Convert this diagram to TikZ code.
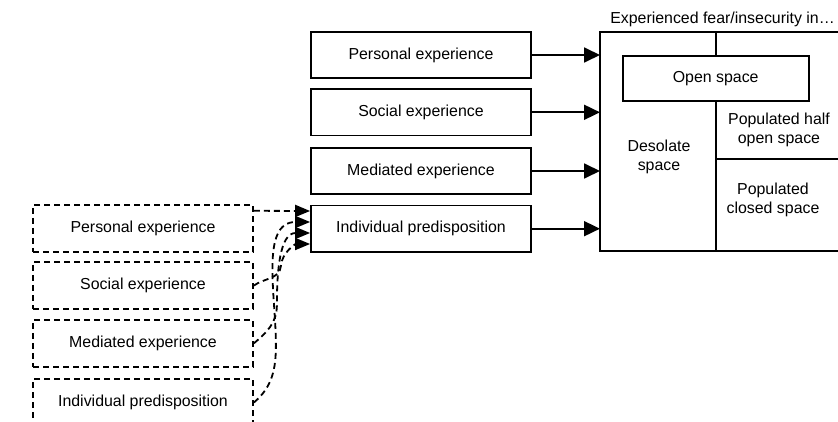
\documentclass[tikz,border=0pt]{standalone}
\usepackage{fontspec}
\setmainfont{Liberation Sans}
\usetikzlibrary{arrows.meta}
\begin{document}
\begin{tikzpicture}[x=1pt,y=-1pt,
  every node/.style={font=\fontsize{15.9}{19}\selectfont, inner sep=0pt},
  box/.style={draw, line width=1.8pt, minimum width=220, minimum height=46.5, align=center},
  dbox/.style={box, dash pattern=on 6pt off 4pt},
  lbl/.style={align=center},
  line/.style={line width=1.8pt},
  arr/.style={line width=1.8pt, -{Triangle[length=16pt,width=15pt]}},
  darr/.style={line width=1.8pt, dash pattern=on 6pt off 4pt, -{Triangle[length=15pt,width=12pt]}}]
\path[use as bounding box, clip] (0,0) rectangle (838,422);

% big area
\node[minimum width=245, minimum height=218.5, anchor=north west] (space) at (600,32.3) {};
\draw[line] (space.north east) -- (space.north west) -- (space.south west) -- (space.south east);
\node[anchor=south] (title) at (722.5,27) {Experienced fear/insecurity in\ldots};
\node[box, minimum width=186, minimum height=45] (open) at (715.7,78.5) {Open space};
\coordinate (vtop) at (715.7,32.3);
\coordinate (vbot) at (715.7,250.7);
\coordinate (hl) at (715.7,159.3);
\coordinate (hr) at (845,159.3);
\draw[line] (vtop) -- (open.north);
\draw[line] (open.south) -- (vbot);
\draw[line] (hl) -- (hr);
\node[lbl] (desolate) at (659,157) {Desolate\\space};
\node[lbl] (half) at (779,130) {Populated half\\open space};
\node[lbl] (closed) at (773,200) {Populated\\closed space};

% solid boxes
\node[box] (s1) at (421,55) {Personal experience};
\node[box] (s2) at (421,112.3) {Social experience};
\node[box] (s3) at (421,171) {Mediated experience};
\node[box] (s4) at (421,228.7) {Individual predisposition};
\foreach \n in {s1,s2,s3,s4}
  \draw[arr] (\n.east) -- (\n.east -| space.west);

% dashed boxes
\node[dbox, minimum height=47] (d1) at (143,228.3) {Personal experience};
\node[dbox, minimum height=47] (d2) at (143,285.5) {Social experience};
\node[dbox, minimum height=47] (d3) at (143,343.3) {Mediated experience};
\node[dbox, minimum height=47] (d4) at (143,402.5) {Individual predisposition};

\draw[darr] ([yshift=17.5pt]d1.east) -- ([yshift=17.7pt]s4.west);
\draw[darr] (d4.east) to[out=40,in=-90] ++(22,-57.5) to[out=90,in=180] ([yshift=6.7pt]s4.west);
\draw[darr] (d3.east) to[out=40,in=-90] ++(23,-38.3) to[out=90,in=180] ([yshift=-4.3pt]s4.west);
\draw[darr] (d2.east) to[out=35,in=-95] ++(27,-19.5) to[out=85,in=180] ([yshift=-15.3pt]s4.west);
\end{tikzpicture}
\end{document}
